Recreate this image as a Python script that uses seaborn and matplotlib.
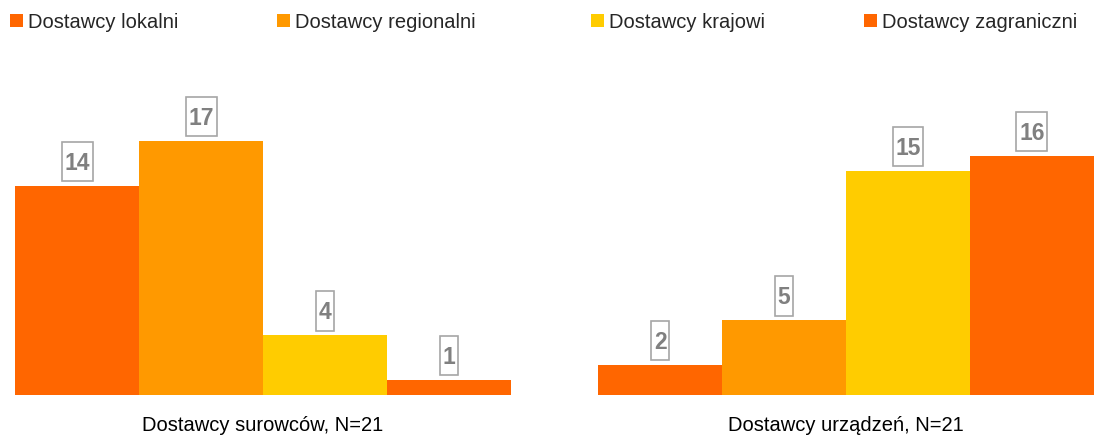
import numpy as np
import pandas as pd
import matplotlib.pyplot as plt
import seaborn as sns
from matplotlib.path import Path

groups = ['Dostawcy surowców, N=21', 'Dostawcy urządzeń, N=21']
suppliers = ['Dostawcy lokalni', 'Dostawcy regionalni', 'Dostawcy krajowi', 'Dostawcy zagraniczni']
surowce = [14, 17, 4, 1]
urzadzenia = [2, 5, 15, 16]
colors = ['#FF6600', '#FF9900', '#FFCC00', '#FF6600']

df = pd.DataFrame({
    'group': [groups[0]] * 4 + [groups[1]] * 4,
    'supplier': suppliers * 2,
    'count': surowce + urzadzenia,
})

sns.set_theme(style='white')
plt.rcParams['font.family'] = ['Liberation Sans', 'DejaVu Sans']


def label_box(x0, y0, width, height, mutation_size):
    # narrow horizontally, tall vertically, like the original callouts
    padx = 0.12 * mutation_size
    pady = 0.36 * mutation_size
    shift = 0.08 * mutation_size
    x1 = x0 - padx
    x2 = x0 + width + padx
    y1 = y0 - pady + shift
    y2 = y0 + height + pady + shift
    return Path([(x1, y1), (x2, y1), (x2, y2), (x1, y2), (x1, y1)], closed=True)


fig = plt.figure(figsize=(11.01, 4.37), dpi=100)
ax = fig.add_axes([0, 42 / 437, 1, 355 / 437])

sns.barplot(data=df, x='group', y='count', hue='supplier', hue_order=suppliers,
            palette=colors, width=0.85, saturation=1, linewidth=0, edgecolor='none',
            ax=ax, legend=True)

for cont in ax.containers:
    ax.bar_label(cont, padding=8, fontsize=16.5, fontweight='bold', color='#808080',
                 bbox=dict(boxstyle=label_box, facecolor='white', edgecolor='#A6A6A6', linewidth=1.2))

ax.set_xlim(-263 / 583, 838 / 583)
ax.set_ylim(0, 355 / 14.94)
ax.set_xlabel('')
ax.set_ylabel('')
ax.set_yticks([])
ax.tick_params(axis='x', length=0, pad=15, labelsize=14.5, labelcolor='black')
sns.despine(ax=ax, left=True, bottom=True, top=True, right=True)

handles, labels = ax.get_legend_handles_labels()
ax.get_legend().remove()
leg_kw = dict(ncol=2, frameon=False, fontsize=14.5, handlelength=0.66, handleheight=0.66,
              handletextpad=0.24, columnspacing=4.9, borderpad=0, borderaxespad=0)
leg1 = fig.legend(handles[:2], labels[:2], loc='center left', bbox_to_anchor=(10 / 1101, 1 - 22 / 437), **leg_kw)
leg2 = fig.legend(handles[2:], labels[2:], loc='center left', bbox_to_anchor=(591 / 1101, 1 - 22 / 437), **leg_kw)

fig.savefig('out.png', dpi=100)
